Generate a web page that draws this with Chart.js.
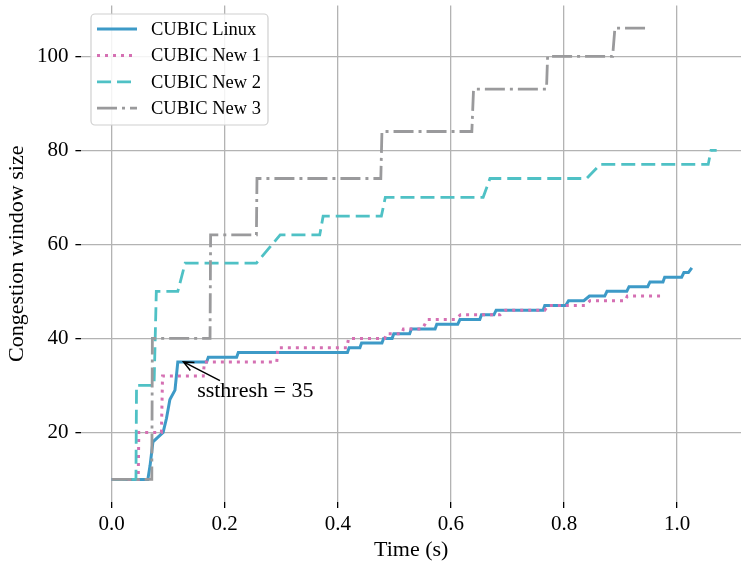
<!DOCTYPE html>
<html lang="en">
<head>
    <meta charset="UTF-8">
    <title>CUBIC congestion window</title>
    <script src="https://cdn.jsdelivr.net/npm/chart.js"></script>
    <style>
        html, body { margin: 0; padding: 0; background: #fff; }
        #wrap { width: 741px; height: 566px; }
    </style>
</head>
<body>
    <div id="wrap"><canvas id="cwndChart" width="741" height="566"></canvas></div>

    <script>
        const seriesNames = ['CUBIC Linux', 'CUBIC New 1', 'CUBIC New 2', 'CUBIC New 3'];

        // time (s) / congestion window pairs
        const linuxTime = [0, 0.064, 0.068, 0.073, 0.082, 0.091, 0.097, 0.103, 0.112, 0.117, 0.168, 0.171, 0.221, 0.224,
            0.417, 0.420, 0.439, 0.442, 0.478, 0.481, 0.496, 0.499, 0.527, 0.530, 0.572, 0.575, 0.612, 0.616, 0.651, 0.654,
            0.676, 0.680, 0.763, 0.766, 0.803, 0.808, 0.835, 0.845, 0.872, 0.876, 0.911, 0.915, 0.948, 0.952, 0.975, 0.978,
            1.008, 1.012, 1.020, 1.026];
        const linuxCwnd = [10, 10, 13, 18, 19, 20, 23, 27, 29, 35, 35, 36, 36, 37,
            37, 38, 38, 39, 39, 40, 40, 41, 41, 42, 42, 43, 43, 44, 44, 45,
            45, 46, 46, 47, 47, 48, 48, 49, 49, 50, 50, 51, 51, 52, 52, 53,
            53, 54, 54, 55];

        const newOneTime = [0, 0.047, 0.048, 0.088, 0.090, 0.162, 0.164, 0.292, 0.294, 0.416, 0.419, 0.483, 0.486, 0.513,
            0.516, 0.549, 0.554, 0.558, 0.607, 0.617, 0.687, 0.696, 0.766, 0.772, 0.837, 0.846, 0.908, 0.912, 0.973];
        const newOneCwnd = [10, 10, 20, 20, 32, 32, 35, 35, 38, 38, 40, 40, 41, 41,
            42, 42, 43, 44, 44, 45, 45, 46, 46, 47, 47, 48, 48, 49, 49];

        const newTwoTime = [0, 0.043, 0.044, 0.075, 0.079, 0.117, 0.130, 0.256, 0.298, 0.368, 0.374, 0.477, 0.484, 0.657,
            0.669, 0.840, 0.864, 1.055, 1.060, 1.070];
        const newTwoCwnd = [10, 10, 30, 30, 50, 50, 56, 56, 62, 62, 66, 66, 70, 70,
            74, 74, 77, 77, 80, 80];

        const newThreeTime = [0, 0.071, 0.072, 0.174, 0.175, 0.256, 0.257, 0.476, 0.478, 0.637, 0.640, 0.769, 0.771,
            0.886, 0.890, 0.946];
        const newThreeCwnd = [10, 10, 40, 40, 62, 62, 74, 74, 84, 84, 93, 93, 100, 100, 106, 106];

        const xTickValues = [0, 0.2, 0.4, 0.6, 0.8, 1.0];
        const yTickValues = [20, 40, 60, 80, 100];

        const serif = '"Liberation Serif", "Times New Roman", serif';

        function toPoints(ts, ws) {
            return ts.map((t, i) => ({ x: t, y: ws[i] }));
        }

        // legend box drawn inside the plot, upper left
        const innerLegend = {
            id: 'innerLegend',
            afterDatasetsDraw(chart) {
                const ctx = chart.ctx;
                const left = 91, top = 14, w = 177, h = 111;
                ctx.save();
                ctx.beginPath();
                ctx.roundRect(left, top, w, h, 4);
                ctx.fillStyle = 'rgba(255,255,255,0.85)';
                ctx.fill();
                ctx.strokeStyle = '#d0d0d0';
                ctx.lineWidth = 1.2;
                ctx.stroke();

                ctx.font = '18.5px ' + serif;
                ctx.textBaseline = 'middle';
                ctx.textAlign = 'left';
                chart.data.datasets.forEach((ds, i) => {
                    const rowY = 29 + i * 26.4;
                    ctx.strokeStyle = ds.borderColor;
                    ctx.lineWidth = ds.borderWidth;
                    ctx.setLineDash(ds.borderDash || []);
                    ctx.beginPath();
                    ctx.moveTo(97, rowY);
                    ctx.lineTo(137, rowY);
                    ctx.stroke();
                    ctx.setLineDash([]);
                    ctx.fillStyle = '#000';
                    ctx.fillText(ds.label, 151, rowY + 1);
                });
                ctx.restore();
            }
        };

        // "ssthresh = 35" arrow
        const ssthreshNote = {
            id: 'ssthreshNote',
            afterDatasetsDraw(chart) {
                const { ctx, scales: { x, y } } = chart;
                const hx = x.getPixelForValue(0.127), hy = y.getPixelForValue(35);
                const tx = x.getPixelForValue(0.1915), ty = y.getPixelForValue(31);
                ctx.save();
                ctx.strokeStyle = '#000';
                ctx.lineWidth = 1.5;
                ctx.beginPath();
                ctx.moveTo(tx, ty);
                ctx.lineTo(hx, hy);
                const ang = Math.atan2(ty - hy, tx - hx);
                ctx.moveTo(hx + 11 * Math.cos(ang + 0.42), hy + 11 * Math.sin(ang + 0.42));
                ctx.lineTo(hx, hy);
                ctx.lineTo(hx + 11 * Math.cos(ang - 0.42), hy + 11 * Math.sin(ang - 0.42));
                ctx.stroke();
                ctx.fillStyle = '#000';
                ctx.font = '22px ' + serif;
                ctx.textAlign = 'center';
                ctx.textBaseline = 'middle';
                ctx.fillText('ssthresh = 35', x.getPixelForValue(0.254), y.getPixelForValue(28.7));
                ctx.restore();
            }
        };

        const ctx = document.getElementById('cwndChart').getContext('2d');
        new Chart(ctx, {
            type: 'line',
            data: {
                datasets: [
                    { label: seriesNames[0], data: toPoints(linuxTime, linuxCwnd), borderColor: '#3d9ac7', borderWidth: 3, order: 4 },
                    { label: seriesNames[1], data: toPoints(newOneTime, newOneCwnd), borderColor: '#d570b3', borderWidth: 3, borderDash: [3, 5], order: 3 },
                    { label: seriesNames[2], data: toPoints(newTwoTime, newTwoCwnd), borderColor: '#4fc1c5', borderWidth: 2.8, borderDash: [14, 6], order: 2 },
                    { label: seriesNames[3], data: toPoints(newThreeTime, newThreeCwnd), borderColor: '#9a9a9c', borderWidth: 2.8, borderDash: [20, 5, 3, 5], order: 1 }
                ]
            },
            options: {
                responsive: false,
                animation: false,
                layout: { padding: { top: 5.5, right: 0, bottom: 0, left: 0 } },
                elements: {
                    point: { radius: 0 },
                    line: { tension: 0, fill: false, borderCapStyle: 'butt' }
                },
                plugins: {
                    legend: { display: false },
                    tooltip: { enabled: false }
                },
                scales: {
                    x: {
                        type: 'linear',
                        min: -0.0535,
                        max: 1.113,
                        afterBuildTicks: axis => { axis.ticks = xTickValues.map(v => ({ value: v })); },
                        afterFit: axis => {
                            axis.height = 64;
                            axis.paddingLeft = 0;
                            axis.paddingRight = 0;
                        },
                        border: { display: false },
                        grid: { color: '#b3b3b3', lineWidth: 1.3, tickColor: '#000', tickWidth: 1.3, tickLength: 6 },
                        ticks: {
                            color: '#000',
                            font: { family: serif, size: 21 },
                            padding: 4,
                            maxRotation: 0,
                            autoSkip: false,
                            callback: v => Number(v).toFixed(1)
                        },
                        title: {
                            display: true,
                            text: 'Time (s)',
                            color: '#000',
                            font: { family: serif, size: 22 },
                            padding: { top: 0, bottom: 3 }
                        }
                    },
                    y: {
                        min: 5.2,
                        max: 110.8,
                        afterBuildTicks: axis => { axis.ticks = yTickValues.map(v => ({ value: v })); },
                        afterFit: axis => {
                            axis.width = 81.4;
                            axis.paddingTop = 0;
                            axis.paddingBottom = 0;
                        },
                        border: { display: false },
                        grid: { color: '#b3b3b3', lineWidth: 1.3, tickColor: '#000', tickWidth: 1.3, tickLength: 6 },
                        ticks: {
                            color: '#000',
                            font: { family: serif, size: 21 },
                            padding: 7,
                            autoSkip: false,
                            callback: v => String(v)
                        },
                        title: {
                            display: true,
                            text: 'Congestion window size',
                            color: '#000',
                            font: { family: serif, size: 22 },
                            padding: { top: 4, bottom: 0 }
                        }
                    }
                }
            },
            plugins: [innerLegend, ssthreshNote]
        });
    </script>
</body>
</html>
